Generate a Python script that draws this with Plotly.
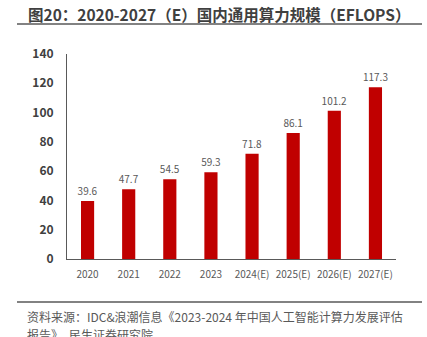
import plotly.graph_objects as go

categories = ["2020", "2021", "2022", "2023", "2024(E)", "2025(E)", "2026(E)", "2027(E)"]
values = [39.6, 47.7, 54.5, 59.3, 71.8, 86.1, 101.2, 117.3]
y_ticks = [0, 20, 40, 60, 80, 100, 120, 140]

title_text = "图20：2020-2027（E）国内通用算力规模（EFLOPS）"
source_line1 = "资料来源：IDC&浪潮信息《2023-2024 年中国人工智能计算力发展评估"
source_line2 = "报告》，民生证券研究院"

W, H = 427, 337
L, R, T, B = 67, 31, 54, 78

fig = go.Figure()
fig.add_trace(go.Bar(
    x=categories, y=values,
    marker=dict(color="#C00000", line=dict(width=0)),
    text=[f"{v:.1f}" for v in values],
    textposition="outside",
    constraintext="none",
    textfont=dict(family="Noto Sans CJK SC, sans-serif", size=10, color="#595959"),
    cliponaxis=False,
))

fig.update_layout(
    width=W, height=H,
    margin=dict(l=L, r=R, t=T, b=B, pad=0),
    paper_bgcolor="white", plot_bgcolor="white",
    bargap=0.68,
    showlegend=False,
    font=dict(family="Noto Sans CJK SC, sans-serif"),
    xaxis=dict(
        type="category", showgrid=False, showline=True, linecolor="#595959", linewidth=1,
        ticks="", tickfont=dict(size=10, color="#595959"),
        ticklabelstandoff=6,
    ),
    yaxis=dict(
        range=[0, 140], tickvals=y_ticks, showgrid=False, zeroline=False,
        showline=True, linecolor="#595959", linewidth=1, ticks="",
        tickfont=dict(size=12, color="#404040", family="Noto Sans CJK SC, sans-serif", weight="bold"),
        ticklabelstandoff=10,
    ),
)

fig.add_annotation(
    text=f"<b>{title_text}</b>", xref="paper", yref="paper",
    x=(26 - L) / (W - L - R), y=1 + (T - 14) / (H - T - B),
    xanchor="left", yanchor="middle", showarrow=False,
    font=dict(size=15.5, color="#404040", family="Noto Sans CJK SC, sans-serif"),
)
fig.add_shape(type="line", xref="paper", yref="paper",
              x0=(17 - L) / (W - L - R), x1=(422 - L) / (W - L - R),
              y0=1 + (T - 24) / (H - T - B), y1=1 + (T - 24) / (H - T - B),
              line=dict(color="#595959", width=1.5))
fig.add_shape(type="line", xref="paper", yref="paper",
              x0=(17 - L) / (W - L - R), x1=(422 - L) / (W - L - R),
              y0=-(302 - (H - B)) / (H - T - B), y1=-(302 - (H - B)) / (H - T - B),
              line=dict(color="#595959", width=1.5))
fig.add_annotation(
    text=source_line1, xref="paper", yref="paper",
    x=(25 - L) / (W - L - R), y=-(316 - (H - B)) / (H - T - B),
    xanchor="left", yanchor="middle", showarrow=False,
    font=dict(size=12, color="#595959", family="Noto Sans CJK SC, sans-serif"),
)
fig.add_annotation(
    text=source_line2, xref="paper", yref="paper",
    x=(25 - L) / (W - L - R), y=-(334 - (H - B)) / (H - T - B),
    xanchor="left", yanchor="middle", showarrow=False,
    font=dict(size=12, color="#595959", family="Noto Sans CJK SC, sans-serif"),
)

fig.write_html("out.html")
